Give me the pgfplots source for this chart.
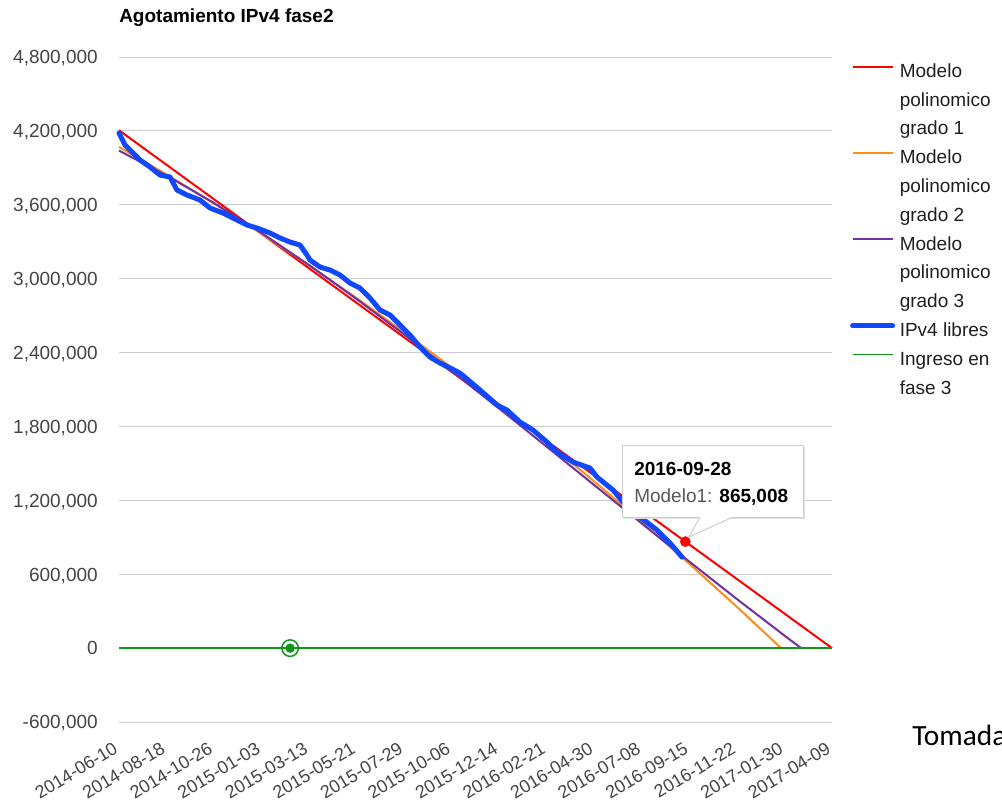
\documentclass[border=0pt]{standalone}
\usepackage{pgfplots}
\pgfplotsset{compat=1.18}
\usepackage{fontspec}
\setmainfont{Liberation Sans}
\newfontfamily\carlito{Carlito}
\definecolor{cred}{RGB}{255,0,0}
\definecolor{corange}{RGB}{255,140,26}
\definecolor{cpurple}{RGB}{112,48,160}
\definecolor{cblue}{RGB}{16,72,255}
\definecolor{cgreen}{RGB}{16,150,24}
\definecolor{cgrid}{RGB}{204,204,204}
\definecolor{ctick}{RGB}{68,68,68}
\begin{document}
\begin{tikzpicture}
\useasboundingbox (0,0) rectangle (751.5pt,603pt);
\begin{axis}[
  at={(89.25pt,61.5pt)}, anchor=south west,
  scale only axis, width=534.75pt, height=498.75pt,
  xmin=0, xmax=15, ymin=-600000, ymax=4800000,
  clip=false,
  xtick={0,1,2,3,4,5,6,7,8,9,10,11,12,13,14,15},
  xticklabels={2014-06-10,2014-08-18,2014-10-26,2015-01-03,2015-03-13,2015-05-21,2015-07-29,2015-10-06,2015-12-14,2016-02-21,2016-04-30,2016-07-08,2016-09-15,2016-11-22,2017-01-30,2017-04-09},
  ytick={-600000,0,600000,1200000,1800000,2400000,3000000,3600000,4200000,4800000},
  scaled y ticks=false,
  yticklabel style={/pgf/number format/fixed, /pgf/number format/precision=0, /pgf/number format/1000 sep={,}, /pgf/number format/assume math mode=true, anchor=base east, inner sep=0pt, xshift=-15.75pt, yshift=-5.1pt},
  ymajorgrids, major grid style={cgrid, line width=0.75pt},
  axis line style={draw=none},
  major tick length=0pt,
  tick label style={font=\fontsize{14.25}{17}\selectfont, color=ctick},
  xticklabel style={yshift=-22.5pt, rotate=31, anchor=base east, inner sep=0pt, font=\fontsize{13.5}{16}\selectfont},
  title={Agotamiento IPv4 fase2},
  title style={at={(0,1)}, anchor=base west, yshift=20.25pt, inner sep=0pt, font=\bfseries\fontsize{14.25}{17}\selectfont},
  legend image code/.code={\draw[#1] (0pt,3.75pt) -- (30pt,3.75pt);},
  legend style={at={(1.025,1)}, anchor=north west, draw=none, fill=none, inner sep=0pt,
    row sep=0pt, column sep=3.5pt, font=\fontsize{14.25}{17}\selectfont,
    nodes={inner sep=0pt, text height=15pt, text depth=6.6pt, text=black!88}},
  legend cell align=left,
]
\addplot[cred, line width=1.5pt] coordinates {(0,4205000) (15,0)};
\addlegendentry{Modelo}
\addlegendimage{empty legend}\addlegendentry{polinomico}
\addlegendimage{empty legend}\addlegendentry{grado 1}

\addplot[corange, line width=1.5pt] coordinates {
(0,4070000) (1,3845189) (2,3609956) (3,3364301) (4,3108224) (5,2841725) (6,2564804)
(7,2277461) (8,1979696) (9,1671509) (10,1352900) (11,1023869) (12,684416) (13,334541) (13.93,0)};
\addlegendentry{Modelo}
\addlegendimage{empty legend}\addlegendentry{polinomico}
\addlegendimage{empty legend}\addlegendentry{grado 2}

\addplot[cpurple, line width=1.5pt] coordinates {
(0,4040000) (1,3838202) (2,3614290) (3,3370732) (4,3110000) (5,2834563) (6,2546891)
(7,2249457) (8,1944728) (9,1635175) (10,1323270) (11,1011481) (12,702280) (13,398135)
(14,101517) (14.35,0)};
\addlegendentry{Modelo}
\addlegendimage{empty legend}\addlegendentry{polinomico}
\addlegendimage{empty legend}\addlegendentry{grado 3}

\addplot[cblue, line width=3.75pt, line join=round, line cap=round] coordinates {
(0,4182800) (0.126,4085400) (0.295,4020400) (0.442,3963500) (0.652,3906700) (0.863,3841700)
(1.073,3825500) (1.220,3719900) (1.431,3679300) (1.704,3638700) (1.915,3573700) (2.188,3533100)
(2.483,3476200) (2.693,3435600) (2.903,3411200) (3.177,3370600) (3.387,3330000) (3.598,3297500)
(3.808,3273200) (3.955,3191900) (4.018,3151300) (4.229,3094500) (4.439,3070100) (4.650,3029500)
(4.860,2964500) (5.070,2923900) (5.281,2842700) (5.491,2745200) (5.702,2704600) (5.912,2623400)
(6.122,2542200) (6.333,2444700) (6.543,2363500) (6.754,2314800) (7.174,2233600) (7.595,2095500)
(7.953,1973600) (8.163,1933000) (8.437,1835600) (8.710,1770600) (9.005,1673100) (9.215,1591900)
(9.552,1510700) (9.910,1462000) (10.057,1388900) (10.394,1283300) (10.604,1185800) (10.962,1064000)
(11.319,958400) (11.593,852800) (11.845,739100)};
\addlegendentry{IPv4 libres}

\addplot[cgreen, line width=1.1pt] coordinates {(0,0) (15,0)};
\addlegendentry{Ingreso en}
\addlegendimage{empty legend}\addlegendentry{fase 3}

\addplot[forget plot, only marks, mark=o, mark size=6.2pt, mark options={draw=cgreen, fill=white, line width=1.1pt}] coordinates {(3.6,0)};
\addplot[forget plot, only marks, mark=*, mark size=3.3pt, mark options={draw=cgreen, fill=cgreen}] coordinates {(3.6,0)};
\addplot[forget plot, only marks, mark=*, mark size=3.75pt, mark options={draw=cred, fill=cred}] coordinates {(11.914,865008)};
\end{axis}
% tooltip
\fill[black!12] (468pt,213.75pt) rectangle (603.75pt,267.75pt);
\filldraw[fill=white, draw=cgrid, line width=0.75pt] (466.5pt,215.25pt) rectangle (602.25pt,269.25pt);
\fill[white] (524.5pt,215.6pt) -- (516.75pt,200.25pt) -- (550.25pt,215.6pt) -- cycle;
\draw[cgrid, line width=0.75pt] (525pt,215.25pt) -- (516.75pt,200.25pt) -- (549.75pt,215.25pt);
\node[anchor=base west, inner sep=0pt, font=\bfseries\fontsize{14.25}{17}\selectfont] at (475.5pt,246.75pt) {2016-09-28};
\node[anchor=base west, inner sep=0pt, font=\fontsize{14.25}{17}\selectfont] at (475.5pt,226.5pt) {\textcolor{black!65}{Modelo1:} \textbf{865,008}};
% source note (cut at the right edge)
\node[anchor=base west, inner sep=0pt, font=\carlito\fontsize{22}{26}\selectfont] at (684pt,44.25pt) {Tomada de};
\end{tikzpicture}
\end{document}
